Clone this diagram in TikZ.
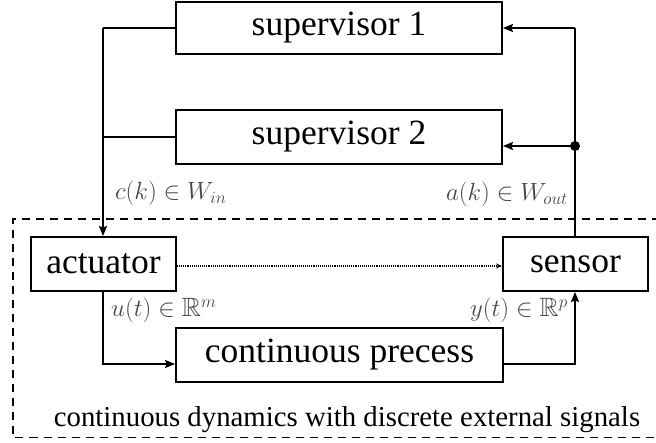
\documentclass[tikz,border=0pt]{standalone}
\usepackage{fontspec}
\usepackage{amssymb}
\setmainfont{Liberation Serif}
\usetikzlibrary{arrows.meta}
\begin{document}
\begin{tikzpicture}[x=1pt,y=-1pt,
  block/.style={draw,line width=1.9pt,inner sep=0pt,font=\fontsize{35.5}{38}\selectfont},
  link/.style={line width=1.9pt},
  arr/.style={link,-{Stealth[length=10pt,width=8pt,inset=1.5pt]}},
  lab/.style={font=\fontsize{26.5}{30}\selectfont,inner sep=0pt,text=black!72}]
\useasboundingbox (0,0) rectangle (656,443);
% signal boxes
\node[block,minimum width=326pt,minimum height=52pt] (sup1) at (339,28) {supervisor 1};
\node[block,minimum width=326pt,minimum height=54pt] (sup2) at (339,137) {supervisor 2};
\node[block,minimum width=145pt,minimum height=54pt] (act) at (103.5,264) {actuator};
\node[block,minimum width=145pt,minimum height=54pt] (sen) at (575.5,264) {sensor};
\node[block,minimum width=327pt,minimum height=54pt] (proc) at (339.5,355) {continuous precess};
% boundary of the continuous part
\draw[line width=1.3pt,dash pattern=on 8pt off 6pt] (660,219) -- (13,219) -- (13,437.5) -- (660,437.5);
\node[font=\fontsize{28.8}{32}\selectfont,inner sep=0pt,anchor=base] (cap) at (347,427) {continuous dynamics with discrete external signals};
% junction points
\coordinate (lc) at (103,28);
\coordinate (rc) at (575,28);
\coordinate (dot) at (575,146);
% command path from the supervisors
\draw[link] (sup1.west) -- (lc);
\draw[link] (sup2.west) -- (103,137);
\draw[arr] (lc) -- (act.north -| lc);
% measurement path to the supervisors
\draw[link] (sen.north -| rc) -- (rc);
\draw[arr] (rc) -- (sup1.east);
\draw[arr] (dot) -- (dot -| sup2.east);
\fill (dot) circle (5pt);
% physical loop
\draw[arr] (act.south -| lc) |- (proc.west |- 0,364);
\draw[arr] (proc.east |- 0,364) -| (sen.south -| rc);
\draw[line width=1.1pt,densely dotted,-{Stealth[length=6pt,width=5pt]}] (act.east |- 0,266) -- (sen.west |- 0,266);
% signal labels
\node[lab,anchor=base west] (ck) at (115,200) {$c(k)\in W_{in}$};
\node[lab,anchor=base east] (ak) at (568,201) {$a(k)\in W_{out}$};
\node[lab,anchor=base west] (ut) at (111,317) {$u(t)\in \mathbb{R}^m$};
\node[lab,anchor=base east] (yt) at (568,317) {$y(t)\in \mathbb{R}^p$};
\end{tikzpicture}
\end{document}
